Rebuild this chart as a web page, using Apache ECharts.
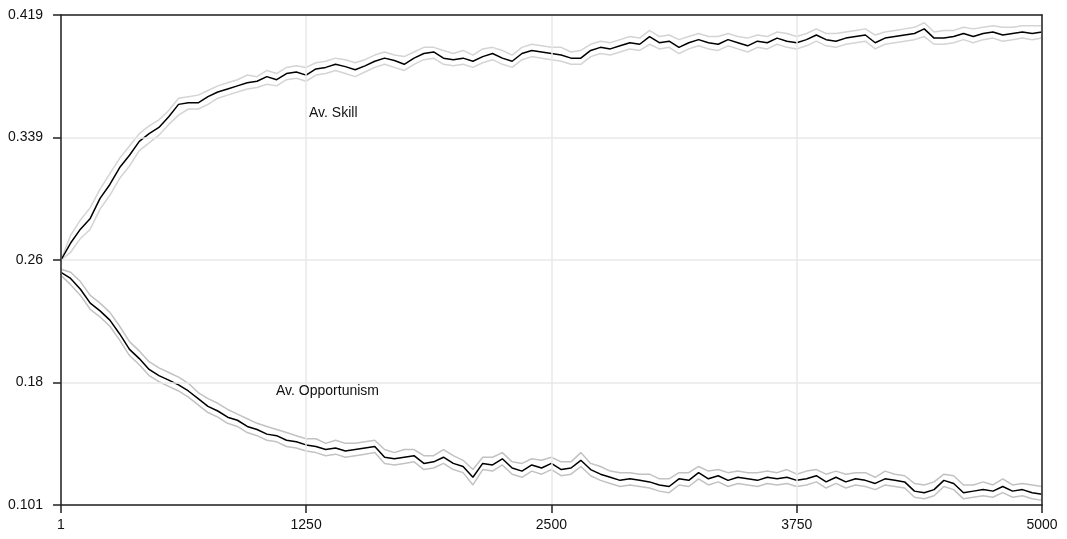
<!DOCTYPE html>
<html><head><meta charset="utf-8">
<script src="https://cdn.jsdelivr.net/npm/echarts@6/dist/echarts.min.js"></script>
<style>html,body{margin:0;padding:0;background:#fff}#c{width:1067px;height:539px}</style>
</head><body><div id="c"></div>
<script>
const steps = [1,50,100,150,200,250,300,350,400,450,
500,550,600,650,700,750,800,850,900,950,
1000,1050,1100,1150,1200,1250,1300,1350,1400,1450,
1500,1550,1600,1650,1700,1750,1800,1850,1900,1950,
2000,2050,2100,2150,2200,2250,2300,2350,2400,2450,
2500,2550,2600,2650,2700,2750,2800,2850,2900,2950,
3000,3050,3100,3150,3200,3250,3300,3350,3400,3450,
3500,3550,3600,3650,3700,3750,3800,3850,3900,3950,
4000,4050,4100,4150,4200,4250,4300,4350,4400,4450,
4500,4550,4600,4650,4700,4750,4800,4850,4900,4950,5000];

const skillMean = [0.260,0.271,0.280,0.287,0.300,0.309,0.320,0.328,0.337,0.342,
0.346,0.353,0.361,0.362,0.362,0.366,0.369,0.371,0.373,0.375,
0.376,0.379,0.377,0.381,0.382,0.380,0.384,0.385,0.387,0.3855,
0.3835,0.386,0.389,0.391,0.3895,0.387,0.391,0.394,0.395,0.391,
0.390,0.391,0.389,0.392,0.394,0.391,0.389,0.394,0.396,0.395,
0.394,0.393,0.391,0.391,0.396,0.398,0.397,0.399,0.401,0.400,
0.405,0.401,0.402,0.398,0.401,0.403,0.401,0.400,0.403,0.401,
0.399,0.402,0.401,0.404,0.402,0.401,0.403,0.406,0.403,0.402,
0.404,0.405,0.406,0.401,0.404,0.405,0.406,0.407,0.410,0.404,
0.404,0.405,0.407,0.405,0.407,0.408,0.406,0.407,0.408,0.407,0.408];

const skillUpper = [0.260,0.276,0.286,0.294,0.306,0.316,0.326,0.334,0.342,0.347,
0.351,0.357,0.365,0.366,0.367,0.370,0.373,0.375,0.377,0.380,
0.379,0.383,0.381,0.385,0.386,0.385,0.388,0.389,0.391,0.390,
0.388,0.390,0.393,0.395,0.393,0.392,0.395,0.398,0.398,0.396,
0.394,0.396,0.393,0.397,0.398,0.396,0.393,0.398,0.400,0.399,
0.398,0.398,0.395,0.396,0.400,0.402,0.401,0.403,0.405,0.404,
0.409,0.405,0.406,0.403,0.405,0.407,0.405,0.405,0.407,0.405,
0.404,0.406,0.405,0.408,0.407,0.405,0.407,0.410,0.407,0.407,
0.408,0.409,0.410,0.406,0.408,0.409,0.410,0.411,0.414,0.408,
0.409,0.409,0.411,0.410,0.411,0.412,0.411,0.411,0.412,0.412,0.412];

const skillLower = [0.260,0.265,0.274,0.280,0.293,0.302,0.313,0.321,0.331,0.336,
0.341,0.348,0.354,0.358,0.358,0.361,0.365,0.367,0.369,0.371,
0.372,0.374,0.373,0.377,0.378,0.376,0.380,0.381,0.383,0.381,
0.379,0.382,0.385,0.387,0.385,0.383,0.387,0.390,0.391,0.387,
0.386,0.387,0.385,0.388,0.390,0.387,0.385,0.390,0.392,0.391,
0.390,0.389,0.387,0.387,0.392,0.394,0.393,0.395,0.397,0.396,
0.400,0.397,0.398,0.394,0.397,0.399,0.397,0.396,0.399,0.397,
0.395,0.398,0.397,0.400,0.398,0.397,0.399,0.402,0.399,0.398,
0.400,0.401,0.402,0.397,0.400,0.401,0.402,0.403,0.405,0.400,
0.400,0.401,0.403,0.401,0.403,0.404,0.402,0.403,0.404,0.403,0.404];

const oppMean = [0.252,0.248,0.241,0.232,0.227,0.221,0.212,0.202,0.196,0.189,
0.185,0.182,0.179,0.175,0.170,0.165,0.162,0.158,0.156,0.152,
0.150,0.147,0.146,0.143,0.142,0.140,0.139,0.137,0.138,0.136,
0.137,0.138,0.139,0.132,0.131,0.132,0.133,0.128,0.129,0.132,
0.128,0.126,0.119,0.128,0.127,0.131,0.125,0.123,0.127,0.125,
0.128,0.124,0.125,0.130,0.124,0.121,0.119,0.117,0.118,0.117,
0.116,0.114,0.113,0.118,0.117,0.122,0.118,0.120,0.117,0.119,
0.118,0.117,0.119,0.118,0.119,0.117,0.118,0.120,0.116,0.119,
0.116,0.118,0.117,0.115,0.118,0.117,0.116,0.110,0.109,0.111,
0.117,0.115,0.109,0.110,0.111,0.110,0.113,0.110,0.111,0.109,0.108];

const oppUpper = [0.254,0.252,0.246,0.237,0.232,0.226,0.217,0.207,0.201,0.194,
0.190,0.187,0.184,0.180,0.174,0.170,0.167,0.163,0.160,0.157,
0.154,0.152,0.150,0.148,0.146,0.144,0.144,0.141,0.143,0.141,
0.141,0.142,0.143,0.137,0.135,0.137,0.137,0.133,0.133,0.137,
0.133,0.130,0.124,0.132,0.132,0.135,0.129,0.128,0.131,0.130,
0.132,0.129,0.129,0.135,0.128,0.126,0.123,0.122,0.122,0.121,
0.121,0.118,0.118,0.122,0.122,0.126,0.123,0.124,0.122,0.123,
0.122,0.122,0.123,0.122,0.124,0.121,0.123,0.124,0.121,0.123,
0.121,0.122,0.122,0.119,0.123,0.121,0.120,0.115,0.114,0.116,
0.121,0.120,0.114,0.114,0.116,0.114,0.118,0.114,0.115,0.114,0.113];

const oppLower = [0.250,0.244,0.237,0.228,0.223,0.217,0.208,0.198,0.192,0.185,
0.181,0.178,0.175,0.171,0.166,0.161,0.158,0.154,0.152,0.148,
0.146,0.143,0.142,0.139,0.138,0.136,0.135,0.133,0.134,0.132,
0.133,0.134,0.135,0.128,0.127,0.128,0.129,0.124,0.125,0.128,
0.124,0.122,0.114,0.124,0.123,0.127,0.121,0.119,0.123,0.121,
0.124,0.120,0.121,0.126,0.120,0.117,0.115,0.113,0.114,0.113,
0.112,0.110,0.109,0.114,0.113,0.118,0.114,0.116,0.113,0.115,
0.114,0.113,0.115,0.114,0.115,0.113,0.114,0.116,0.112,0.115,
0.112,0.114,0.113,0.111,0.114,0.113,0.112,0.106,0.105,0.107,
0.113,0.111,0.105,0.106,0.107,0.106,0.109,0.106,0.107,0.105,0.104];

const xTicks = [1,1250,2500,3750,5000];
const yTickValues = [0.101,0.1805,0.26,0.3395,0.419];
const yTickLabels = ['0.101','0.18','0.26','0.339','0.419'];
const seriesLabels = ['Av. Skill','Av. Opportunism'];

const FONT = "'Liberation Sans', Arial, Helvetica, sans-serif";
function pairs(ys){ return steps.map((s,i)=>[s, ys[i]]); }
function yLabel(v){
  let best=0, bd=1e9;
  yTickValues.forEach((t,i)=>{const d=Math.abs(t-v); if(d<bd){bd=d;best=i;}});
  return yTickLabels[best];
}
function lineSeries(name, ys, color, z){
  return {name, type:'line', data:pairs(ys), showSymbol:false, symbol:'none',
    lineStyle:{color, width:1.5}, z, silent:true, animation:false};
}
const frameLine = {show:true, lineStyle:{color:'#222', width:1.5}};

const chart = echarts.init(document.getElementById('c'), null, {renderer:'canvas'});
chart.setOption({
  animation:false,
  backgroundColor:'#fff',
  grid:{left:61, right:25, top:15, bottom:34},
  xAxis:[{type:'value', min:1, max:5000, z:5,
    axisLine:frameLine,
    axisTick:{show:true, customValues:xTicks, length:8, lineStyle:{color:'#222', width:1.5}},
    axisLabel:{customValues:xTicks, margin:13, color:'#111', fontSize:14, fontFamily:FONT,
      formatter:v=>String(Math.round(v))},
    splitLine:{show:true, lineStyle:{color:'#e8e8e8', width:1.5}}},
    {type:'value', position:'top', min:1, max:5000, z:5, axisLine:frameLine,
     axisTick:{show:false}, axisLabel:{show:false}, splitLine:{show:false}}],
  yAxis:[{type:'value', min:0.101, max:0.419, z:5,
    axisLine:frameLine,
    axisTick:{show:true, customValues:yTickValues, length:8, lineStyle:{color:'#222', width:1.5}},
    axisLabel:{customValues:yTickValues, margin:18, color:'#111', fontSize:14, fontFamily:FONT, formatter:yLabel},
    splitLine:{show:true, lineStyle:{color:'#e8e8e8', width:1.5}}},
    {type:'value', position:'right', min:0.101, max:0.419, z:5, axisLine:frameLine,
     axisTick:{show:false}, axisLabel:{show:false}, splitLine:{show:false}}],
  series:[
    lineSeries('skillUpper', skillUpper, '#d4d4d4', 2),
    lineSeries('skillLower', skillLower, '#d4d4d4', 2),
    lineSeries('oppUpper', oppUpper, '#c2c2c2', 2),
    lineSeries('oppLower', oppLower, '#c2c2c2', 2),
    lineSeries('skillMean', skillMean, '#000', 3),
    lineSeries('oppMean', oppMean, '#000', 3)
  ],
  graphic:[
    {type:'text', left:309, top:106, z:10, style:{text:seriesLabels[0], font:"14px "+FONT, fill:'#111'}},
    {type:'text', left:276, top:384, z:10, style:{text:seriesLabels[1], font:"14px "+FONT, fill:'#111'}}
  ]
});
</script></body></html>
